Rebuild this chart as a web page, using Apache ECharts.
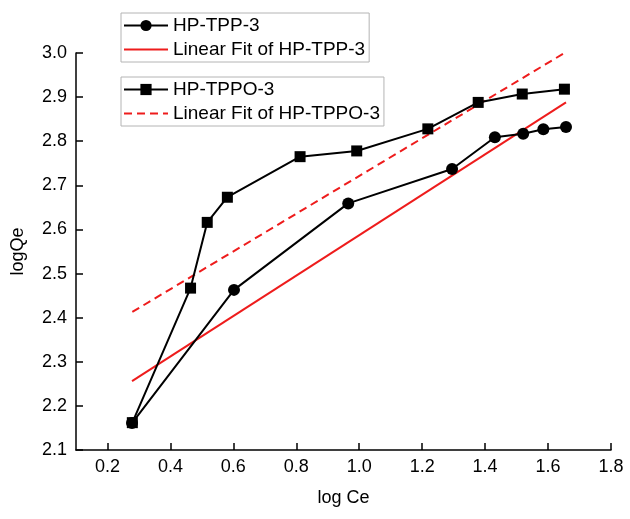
<!DOCTYPE html>
<html>
<head>
<meta charset="utf-8">
<script src="https://cdn.jsdelivr.net/npm/echarts@6/dist/echarts.min.js"></script>
<style>html,body{margin:0;padding:0;background:#fff}#c{width:630px;height:519px}</style>
</head>
<body>
<div id="c"></div>
<script>
// Data
var tppX = [0.278, 0.602, 0.965, 1.295, 1.431, 1.521, 1.585, 1.657];
var tppY = [2.161, 2.463, 2.659, 2.737, 2.809, 2.817, 2.827, 2.832];
var tppoX = [0.279, 0.464, 0.517, 0.581, 0.812, 0.992, 1.218, 1.378, 1.518, 1.652];
var tppoY = [2.162, 2.467, 2.616, 2.673, 2.765, 2.778, 2.828, 2.888, 2.907, 2.918];
var fitTppX = [0.278, 1.657];
var fitTppY = [2.256, 2.888];
var fitTppoX = [0.279, 1.652];
var fitTppoY = [2.413, 3.0];
var xTicks = [0.2, 0.4, 0.6, 0.8, 1.0, 1.2, 1.4, 1.6, 1.8];
var seriesNames = ['HP-TPP-3', 'Linear Fit of HP-TPP-3', 'HP-TPPO-3', 'Linear Fit of HP-TPPO-3'];

function zip(xs, ys) { return xs.map(function (x, i) { return [x, ys[i]]; }); }

var FONT = 'Liberation Sans, Arial, sans-serif';
var legendBase = {
  orient: 'vertical',
  left: 121,
  itemWidth: 44,
  itemHeight: 14,
  itemGap: 3,
  padding: [2, 4, 2, 2],
  borderColor: '#b4b4b4',
  borderWidth: 1,
  borderRadius: 0,
  backgroundColor: '#fff',
  textStyle: { fontFamily: FONT, fontSize: 19, color: '#000', lineHeight: 21 },
  selectedMode: false
};
var noSym = { opacity: 0, color: 'transparent', borderWidth: 0 };

var chart = echarts.init(document.getElementById('c'), null, { renderer: 'canvas' });
chart.setOption({
  animation: false,
  backgroundColor: '#fff',
  grid: { left: 76, right: 19, top: 53, bottom: 69 },
  legend: [
    Object.assign({}, legendBase, { top: 13, data: [
      { name: seriesNames[0] },
      { name: seriesNames[1], itemStyle: noSym }
    ] }),
    Object.assign({}, legendBase, { top: 77, data: [
      { name: seriesNames[2] },
      { name: seriesNames[3], itemStyle: noSym }
    ] })
  ],
  xAxis: {
    type: 'value', min: 0.1, max: 1.8,
    name: 'log Ce', nameLocation: 'middle', nameGap: 39,
    nameTextStyle: { fontFamily: FONT, fontSize: 18, color: '#000' },
    axisLine: { lineStyle: { color: '#000', width: 1.5 } },
    axisTick: { show: true, inside: true, length: 7, customValues: xTicks, lineStyle: { color: '#000', width: 1.5 } },
    axisLabel: { customValues: xTicks, margin: 8, fontFamily: FONT, fontSize: 18, color: '#000',
      formatter: function (v) { return v.toFixed(1); } },
    splitLine: { show: false }
  },
  yAxis: {
    type: 'value', min: 2.1, max: 3.0, interval: 0.1,
    name: 'logQe', nameLocation: 'middle', nameGap: 49,
    nameTextStyle: { fontFamily: FONT, fontSize: 18, color: '#000' },
    axisLine: { show: true, lineStyle: { color: '#000', width: 1.5 } },
    axisTick: { show: true, inside: true, length: 7, lineStyle: { color: '#000', width: 1.5 } },
    axisLabel: { margin: 9, fontFamily: FONT, fontSize: 18, color: '#000',
      formatter: function (v) { return v.toFixed(1); } },
    splitLine: { show: false }
  },
  series: [
    { name: seriesNames[1], type: 'line', data: zip(fitTppX, fitTppY), symbol: 'none',
      lineStyle: { color: '#ee1c1c', width: 2 }, itemStyle: { color: '#ee1c1c' }, z: 2 },
    { name: seriesNames[3], type: 'line', data: zip(fitTppoX, fitTppoY), symbol: 'none',
      lineStyle: { color: '#ee1c1c', width: 2, type: [8, 5] }, itemStyle: { color: '#ee1c1c' }, z: 2 },
    { name: seriesNames[0], type: 'line', data: zip(tppX, tppY), symbol: 'circle', symbolSize: 12,
      lineStyle: { color: '#000', width: 2 }, itemStyle: { color: '#000' }, z: 3 },
    { name: seriesNames[2], type: 'line', data: zip(tppoX, tppoY), symbol: 'rect', symbolSize: 11,
      lineStyle: { color: '#000', width: 2 }, itemStyle: { color: '#000' }, z: 3 }
  ]
});
</script>
</body>
</html>
